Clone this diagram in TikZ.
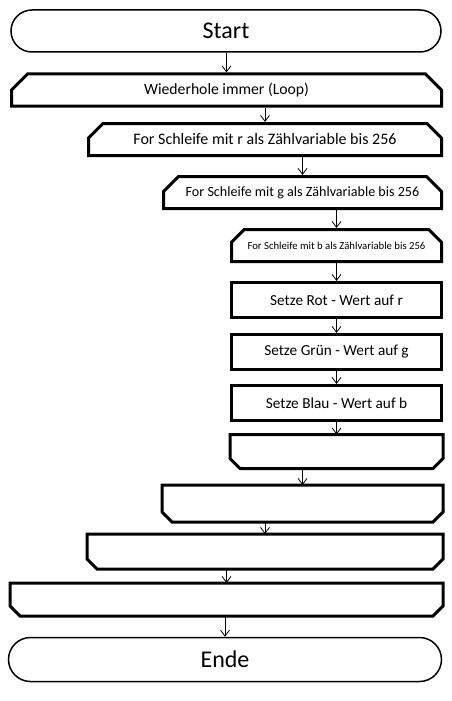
\documentclass[tikz,border=0pt]{standalone}
\usepackage{fontspec}
\setmainfont{Carlito}
\usetikzlibrary{shapes.misc,arrows.meta,positioning}
\newcommand\schleifenende[1]{%
	\draw[line width=3pt] (#1.north west) -- (#1.north east) -- ([yshift=10pt]#1.south east) -- ([xshift=-10pt]#1.south east) -- ([xshift=10pt]#1.south west) -- ([yshift=10pt]#1.south west) -- cycle;%
}

\begin{document}
\begin{tikzpicture}[x=1pt,y=-1pt,
	terminal/.style={rounded rectangle, draw, line width=1.5pt, inner sep=0pt, font=\fontsize{24}{28}\selectfont},
	loophead/.style={chamfered rectangle, chamfered rectangle corners={north west,north east}, chamfered rectangle xsep=9pt, chamfered rectangle ysep=9pt, draw, line width=3pt, inner sep=0pt, font=\fontsize{16}{19}\selectfont},
	loopend/.style={rectangle, inner sep=0pt, outer sep=0pt},
	stepbox/.style={rectangle, draw, line width=3pt, inner sep=0pt, font=\fontsize{15.3}{18}\selectfont},
	flow/.style={-{Straight Barb[length=6pt,width=9pt]}, line width=0.8pt}]
\useasboundingbox (0,0) rectangle (452,701);

% Schleifenkoepfe
\node[terminal, minimum width=430pt, minimum height=42pt] (start) at (226,31) {Start};
\node[loophead, minimum width=430pt, minimum height=29pt, font=\fontsize{15.7}{18}\selectfont] (loopa) at (226.5,90) {Wiederhole immer (Loop)};
\node[loophead, minimum width=353pt, minimum height=32pt] (loopr) at (265,139.5) {For Schleife mit r als Zählvariable bis 256};
\node[loophead, minimum width=278pt, minimum height=32pt, font=\fontsize{14.1}{17}\selectfont] (loopg) at (302.5,192.5) {For Schleife mit g als Zählvariable bis 256};
\node[loophead, minimum width=210pt, minimum height=32pt, font=\fontsize{10.7}{12}\selectfont] (loopb) at (336.5,245.5) {For Schleife mit b als Zählvariable bis 256};

% Anweisungen
\node[stepbox, minimum width=210pt, minimum height=35pt] (rot) at (336.5,300) {Setze Rot - Wert auf r};
\node[stepbox, minimum width=210pt, minimum height=35pt] (gruen) at (336.5,352) {Setze Grün - Wert auf g};
\node[stepbox, minimum width=210pt, minimum height=35pt] (blau) at (336.5,403) {Setze Blau - Wert auf b};

% Schleifenenden
\node[loopend, minimum width=213pt, minimum height=34pt] (endb) at (336.5,451.5) {};
\node[loopend, minimum width=281pt, minimum height=37pt] (endg) at (302.5,503.5) {};
\node[loopend, minimum width=356pt, minimum height=35pt] (endr) at (265,551.5) {};
\node[loopend, minimum width=433pt, minimum height=33pt] (enda) at (226.5,599.5) {};
\schleifenende{endb}
\schleifenende{endg}
\schleifenende{endr}
\schleifenende{enda}
\node[terminal, minimum width=433pt, minimum height=44pt] (ende) at (225,659.5) {Ende};

% Verbindungen
\draw[flow] (start.south -| loopa.north) -- (loopa.north);
\draw[flow] (loopa.south -| loopr.north) -- (loopr.north);
\draw[flow] (loopr.south -| loopg.north) -- (loopg.north);
\draw[flow] (loopg.south -| loopb.north) -- (loopb.north);
\draw[flow] (loopb.south) -- (rot.north);
\draw[flow] (rot.south) -- (gruen.north);
\draw[flow] (gruen.south) -- (blau.north);
\draw[flow] (blau.south) -- (endb.north);
\draw[flow] (endb.south -| endg.north) -- (endg.north);
\draw[flow] (endg.south -| endr.north) -- (endr.north);
\draw[flow] (endr.south -| enda.north) -- (enda.north);
\draw[flow] (enda.south -| ende.north) -- (ende.north);
\end{tikzpicture}
\end{document}
